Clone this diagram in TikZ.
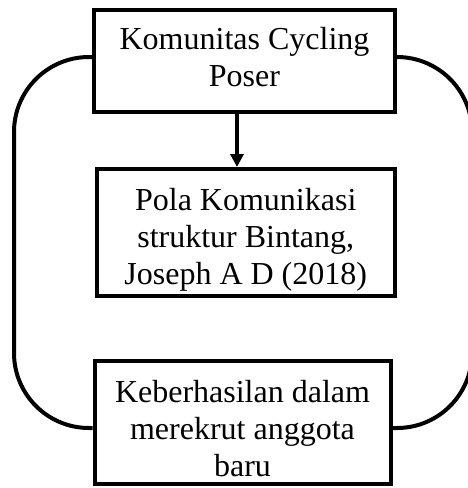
\documentclass[tikz,border=0pt]{standalone}
\usepackage{fontspec}
\setmainfont{Liberation Serif}
\usepackage{tikz}
\usetikzlibrary{arrows.meta}
\tikzset{flowbox/.style = {draw, line width=4pt, align=center, inner sep=0pt,
                           font=\fontsize{32}{37}\selectfont},
         loopline/.style = {line width=4pt, rounded corners=75pt},
         flowarrow/.style = {line width=4pt, -{Triangle[length=13pt, width=13pt]}}}

\begin{document}
\begin{tikzpicture}[x=1pt, y=-1pt]
      \useasboundingbox (0, 0) rectangle (467, 488);
      \node [flowbox, minimum width=301pt, minimum height=102pt, text depth=8pt] (komunitas) at (244.5, 60.5) {Komunitas Cycling\\Poser};
      \node [flowbox, minimum width=297.5pt, minimum height=126.5pt, text height=110.5pt] (pola) at (245.75, 232.25) {Pola Komunikasi\\struktur Bintang,\\Joseph A D (2018)};
      \node [flowbox, minimum width=296pt, minimum height=123pt, text height=108.5pt] (keberhasilan) at (242.5, 422.5) {Keberhasilan dalam\\merekrut anggota\\baru};
      \draw [flowarrow] ([xshift=-7.5pt]komunitas.south) -- ([xshift=-7.5pt]komunitas.south |- pola.north);
      \draw [loopline] ([yshift=3.5pt]komunitas.west) -| (14, 250) |- ([yshift=-5.5pt]keberhasilan.west);
      \draw [loopline] ([yshift=3.5pt]komunitas.east) -| (472, 250) |- ([yshift=-5.5pt]keberhasilan.east);
    \end{tikzpicture}
\end{document}
